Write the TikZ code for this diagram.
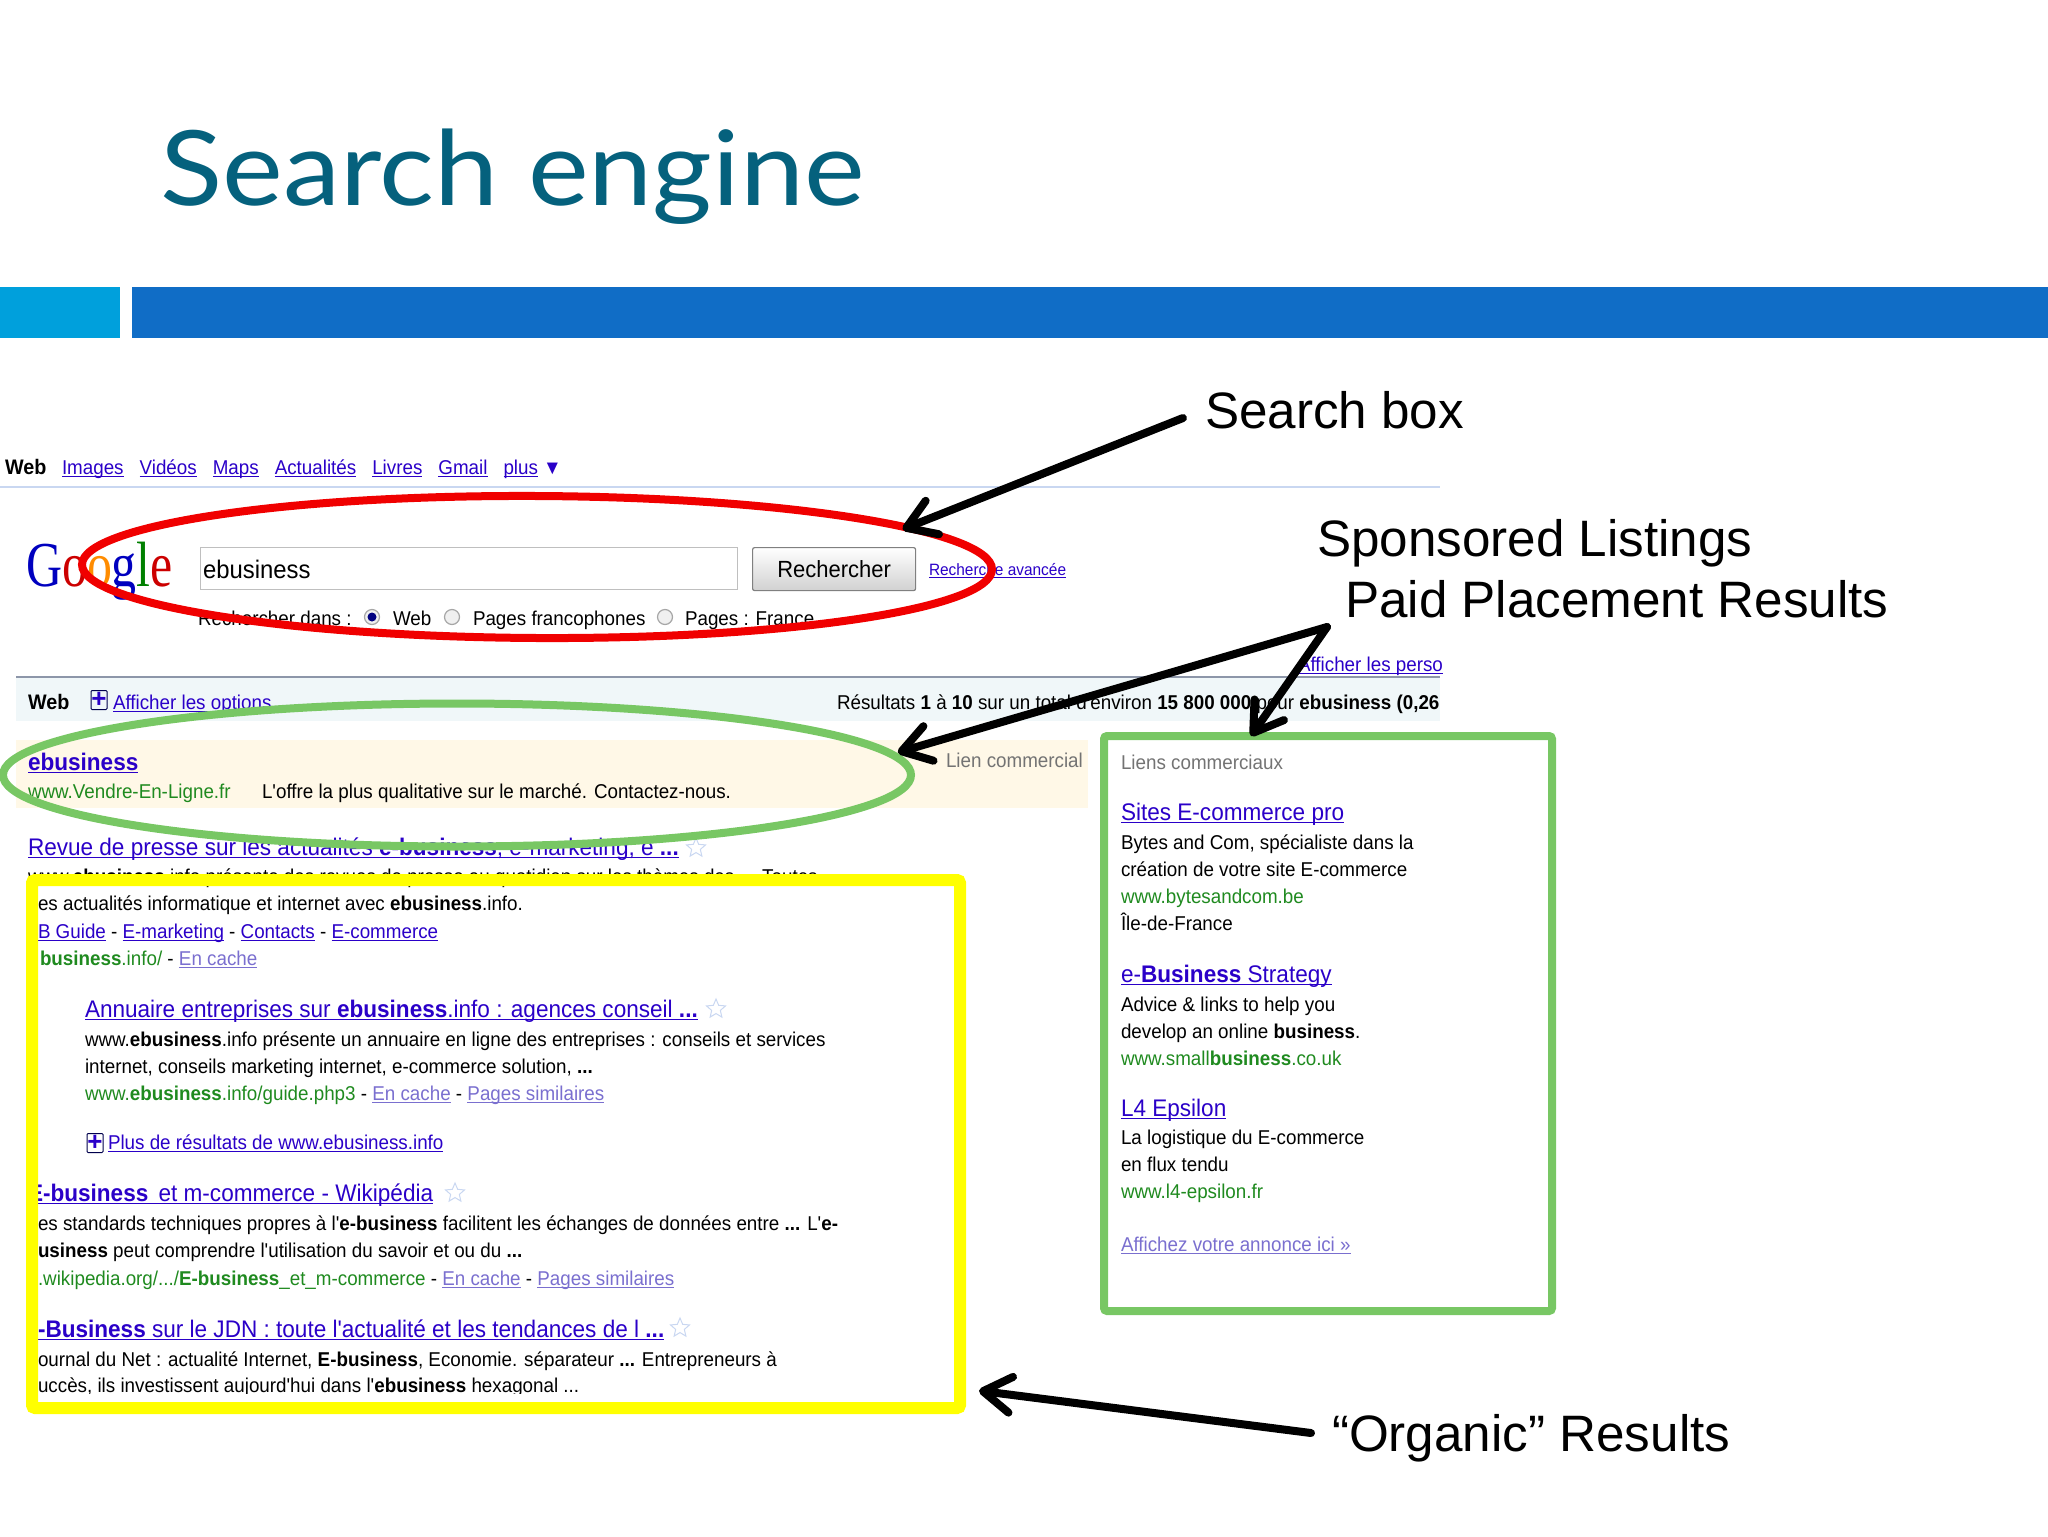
\documentclass[tikz,border=0pt]{standalone}
\usepackage{fontspec}
\usepackage{tikz}
\usetikzlibrary{arrows.meta, shapes.geometric}
\setmainfont{Liberation Sans}
\newfontfamily\titlefont[FakeStretch=1.105]{Lato}
\newfontfamily\shotfont[FakeStretch=0.94]{Liberation Sans}
\newfontfamily\logofont[FakeStretch=0.78]{Liberation Serif}
\definecolor{titleteal}{HTML}{05617D}
\definecolor{barcyan}{HTML}{00A0DC}
\definecolor{barblue}{HTML}{106DC6}
\definecolor{linkblue}{HTML}{2A00C8}
\definecolor{seenblue}{HTML}{7A6FCF}
\definecolor{urlgreen}{HTML}{1F8A1F}
\definecolor{ringred}{HTML}{F00000}
\definecolor{ringgreen}{HTML}{78C764}
\definecolor{boxyellow}{HTML}{FFFF00}
\definecolor{ruleblue}{HTML}{C9D7F1}
\definecolor{paleblue}{HTML}{F0F7F9}
\definecolor{adcream}{HTML}{FFF8E7}
\newcommand{\ulbar}[1]{\setbox0=\hbox{#1}\rlap{\raisebox{-1.5pt}{\rule{\wd0}{.6pt}}}\box0}
\newcommand{\lnk}[1]{{\color{linkblue}\ulbar{#1}}}
\newcommand{\seen}[1]{{\color{seenblue}\ulbar{#1}}}
\newcommand{\url}[1]{{\color{urlgreen}#1}}
\tikzstyle{body} = [anchor=base west, inner sep=0pt, outer sep=0pt, font=\shotfont\fontsize{10}{12}\selectfont]
\tikzstyle{head} = [body, font=\shotfont\fontsize{12}{14}\selectfont]
\tikzstyle{callout} = [anchor=base west, inner sep=0pt, outer sep=0pt, font=\fontsize{25.6}{30}\selectfont]
\tikzstyle{ring} = [draw, ellipse, line width=4pt, inner sep=0pt, outer sep=0pt]
\tikzstyle{frame} = [draw, rectangle, rounded corners=1.5pt, inner sep=0pt, outer sep=0pt]
\tikzstyle{callArrow} = [line width=4pt, line cap=round, -{Straight Barb[length=14pt,width=18pt,round]}]
\tikzstyle{radio} = [draw=black!35, circle, fill=black!6, minimum size=7.5pt, inner sep=0pt, line width=.6pt]
\tikzstyle{fav} = [draw=ruleblue, star, star points=5, star point ratio=2.2, minimum size=10pt, inner sep=0pt, line width=.5pt]
\tikzstyle{plusbox} = [draw=black!70!blue, rectangle, rounded corners=.5pt, minimum width=8pt, minimum height=9.5pt, inner sep=0pt, line width=.5pt, text=linkblue, font=\bfseries\fontsize{13}{10}\selectfont]

\begin{document}
\begin{tikzpicture}[x=.5pt, y=-.5pt]
	\useasboundingbox (0,0) rectangle (2048,1536);
	% slide head
	\node[anchor=base west, inner sep=0pt, text=titleteal, font=\titlefont\fontsize{52}{60}\selectfont] (title) at (160,205) {Search engine};
	\node[fill=barcyan, anchor=north west, inner sep=0pt, minimum width=60pt, minimum height=25.5pt] (barShort) at (0,287) {};
	\node[fill=barblue, anchor=north west, inner sep=0pt, minimum width=958pt, minimum height=25.5pt] (barLong) at (132,287) {};

	% top links
	\node[body, font=\shotfont\bfseries\fontsize{10.5}{12}\selectfont] (navWeb) at (5,474) {Web};
	\node[body] (navLinks) at (62,474) {\lnk{Images}\hspace{8pt}\lnk{Vidéos}\hspace{8pt}\lnk{Maps}\hspace{8pt}\lnk{Actualités}\hspace{8pt}\lnk{Livres}\hspace{8pt}\lnk{Gmail}\hspace{8pt}\lnk{plus} {\color{linkblue}▼}};
	\draw[ruleblue, line width=.7pt] (0,487) -- (1440,487);

	% search form
	\node[body, font=\logofont\fontsize{32}{32}\selectfont] (logo) at (26,586) {{\color{blue!75!black}G}{\color{red!80!black}o}{\color{orange!90!yellow}o}{\color{blue!75!black}g}{\color{green!50!black}l}{\color{red!80!black}e}};
	\node[draw=black!25, fill=white, anchor=north west, inner sep=0pt, minimum width=268.5pt, minimum height=21pt, line width=.5pt] (queryBox) at (200,547) {};
	\node[body, font=\shotfont\fontsize{12.7}{14}\selectfont] (queryText) at (203,578) {ebusiness};
	\node[draw=black!50, top color=white, bottom color=black!18, rounded corners=1pt, anchor=north west, inner sep=0pt, minimum width=81.5pt, minimum height=21.5pt, line width=.6pt, font=\shotfont\fontsize{11.7}{14}\selectfont] (searchBtn) at (752,547) {Rechercher};
	\node[body, font=\shotfont\fontsize{8.2}{10}\selectfont] (advanced) at (929,575) {\lnk{Recherche avancée}};
	\node[body] (inLabel) at (198,625) {Rechercher dans :};
	\node[radio] (radioWeb) at (372,617) {};
	\fill[blue!50!black] (radioWeb) circle (4.5);
	\node[body] (inWeb) at (393,625) {Web};
	\node[radio] (radioFr) at (452,617) {};
	\node[body] (inFr) at (473,625) {Pages francophones};
	\node[radio] (radioCountry) at (665,617) {};
	\node[body] (inCountry) at (685,625) {Pages : France};

	% results bar
	\node[body] (persoLink) at (1298,671) {\lnk{Afficher les perso}};
	\node[fill=paleblue, anchor=north west, inner sep=0pt, minimum width=712pt, minimum height=22pt] (resBar) at (16,677) {};
	\draw[black!30!ruleblue, line width=.8pt] (16,677) -- (1440,677);
	\node[body, font=\shotfont\bfseries\fontsize{10.5}{12}\selectfont] (resWeb) at (28,709) {Web};
	\node[plusbox] (plusOptions) at (99,700) {+};
	\node[body] (optionsLink) at (113,709) {\lnk{Afficher les options}};
	\node[body] (resCount) at (837,709) {Résultats \textbf{1} à \textbf{10} sur un total d'environ \textbf{15 800 000} pour \textbf{ebusiness} \textbf{(0,26}};

	% sponsored line on top
	\node[fill=adcream, anchor=north west, inner sep=0pt, minimum width=536pt, minimum height=34pt] (adBand) at (16,740) {};
	\node[head, font=\shotfont\bfseries\fontsize{12}{14}\selectfont] (adTitle) at (28,770) {\lnk{ebusiness}};
	\node[body] (adUrl) at (28,798) {\url{www.Vendre-En-Ligne.fr}};
	\node[body] (adText) at (262,798) {L'offre la plus qualitative sur le marché. Contactez-nous.};
	\node[body, text=black!55] (adTag) at (946,767) {Lien commercial};

	% organic results
	\node[head] (r0Title) at (28,855) {\lnk{Revue de presse sur les actualités \textbf{e-business}, e-marketing, e \textbf{...}}};
	\node[fav] (r0Star) at (696,848) {};
	\node[body] (r0Line) at (28,883) {www.\textbf{ebusiness}.info présente des revues de presse au quotidien sur les thèmes des ... Toutes};
	\node[body] (r0a) at (38,910) {es actualités informatique et internet avec \textbf{ebusiness}.info.};
	\node[body] (r0b) at (38,938) {\lnk{B Guide} - \lnk{E-marketing} - \lnk{Contacts} - \lnk{E-commerce}};
	\node[body] (r0c) at (40,965) {\url{\textbf{business}.info/} - \seen{En cache}};
	\node[head] (r1Title) at (85,1017) {\lnk{Annuaire entreprises sur \textbf{ebusiness}.info : agences conseil \textbf{...}}};
	\node[fav] (r1Star) at (716,1009) {};
	\node[body] (r1a) at (85,1046) {www.\textbf{ebusiness}.info présente un annuaire en ligne des entreprises : conseils et services};
	\node[body] (r1b) at (85,1073) {internet, conseils marketing internet, e-commerce solution, \textbf{...}};
	\node[body] (r1c) at (85,1100) {\url{www.\textbf{ebusiness}.info/guide.php3} - \seen{En cache} - \seen{Pages similaires}};
	\node[plusbox] (plusMore) at (95,1143) {+};
	\node[body] (moreLink) at (108,1149) {\lnk{Plus de résultats de www.ebusiness.info}};
	\node[head] (r2Title) at (28,1201) {\lnk{\textbf{E-business}\hspace{2pt} et m-commerce - Wikipédia}};
	\node[fav] (r2Star) at (455,1193) {};
	\node[body] (r2a) at (38,1230) {es standards techniques propres à l'\textbf{e-business} facilitent les échanges de données entre \textbf{...} L'\textbf{e-}};
	\node[body] (r2b) at (38,1257) {\textbf{usiness} peut comprendre l'utilisation du savoir et ou du \textbf{...}};
	\node[body] (r2c) at (38,1285) {\url{.wikipedia.org/.../\textbf{E-business}\_et\_m-commerce} - \seen{En cache} - \seen{Pages similaires}};
	\node[head] (r3Title) at (38,1337) {\lnk{\textbf{-Business} sur le JDN : toute l'actualité et les tendances de l \textbf{...}}};
	\node[fav] (r3Star) at (680,1328) {};
	\node[body] (r3a) at (38,1366) {ournal du Net : actualité Internet, \textbf{E-business}, Economie. séparateur \textbf{...} Entrepreneurs à};
	\node[body] (r3b) at (38,1392) {uccès, ils investissent aujourd'hui dans l'\textbf{ebusiness} hexagonal ...};
	\fill[white] (r3b.base west) ++(0,2) rectangle (950,1402);

	% side listings
	\node[body, text=black!55] (sideTag) at (1121,769) {Liens commerciaux};
	\node[head] (s1Title) at (1121,820) {\lnk{Sites E-commerce pro}};
	\node[body] (s1a) at (1121,849) {Bytes and Com, spécialiste dans la};
	\node[body] (s1b) at (1121,876) {création de votre site E-commerce};
	\node[body] (s1c) at (1121,903) {\url{www.bytesandcom.be}};
	\node[body] (s1d) at (1121,930) {Île-de-France};
	\node[head] (s2Title) at (1121,982) {\lnk{e-\textbf{Business} Strategy}};
	\node[body] (s2a) at (1121,1011) {Advice \& links to help you};
	\node[body] (s2b) at (1121,1038) {develop an online \textbf{business}.};
	\node[body] (s2c) at (1121,1065) {\url{www.small\textbf{business}.co.uk}};
	\node[head] (s3Title) at (1121,1116) {\lnk{L4 Epsilon}};
	\node[body] (s3a) at (1121,1144) {La logistique du E-commerce};
	\node[body] (s3b) at (1121,1171) {en flux tendu};
	\node[body] (s3c) at (1121,1198) {\url{www.l4-epsilon.fr}};
	\node[body] (s4) at (1121,1251) {\seen{Affichez votre annonce ici »}};

	% marks over the screenshot
	\node[ring, draw=ringred, minimum width=455pt, minimum height=71pt, rotate=-.3] (redRing) at (537,567) {};
	\node[ring, draw=ringgreen, minimum width=454pt, minimum height=71.5pt] (greenRing) at (457,775) {};
	\node[frame, draw=boxyellow, line width=6pt, minimum width=464pt, minimum height=264pt] (yellowBox) at (496,1144) {};
	\node[frame, draw=ringgreen, line width=4pt, minimum width=224pt, minimum height=287.5pt] (sideBox) at (1328,1023.5) {};

	% labels
	\node[callout] (searchLabel) at (1205,428) {Search box};
	\node[callout] (sponsorLabel) at (1317,556) {Sponsored Listings};
	\node[callout] (paidLabel) at (1345,617) {Paid Placement Results};
	\node[callout] (organicLabel) at (1332,1451) {“Organic” Results};
	\coordinate (searchFoot) at (1183,418);
	\coordinate (paidFoot) at (1327,627);
	\coordinate (organicFoot) at (1311,1433);

	% arrows
	\draw[callArrow] (searchFoot) -- ([xshift=-6pt]redRing.6);
	\draw[callArrow] (paidFoot) -- ([xshift=5pt]greenRing.3);
	\draw[callArrow] (paidFoot) -- (sideBox.105.6);
	\draw[callArrow] (organicFoot) -- ([xshift=9.5pt]yellowBox.-28);
\end{tikzpicture}
\end{document}
